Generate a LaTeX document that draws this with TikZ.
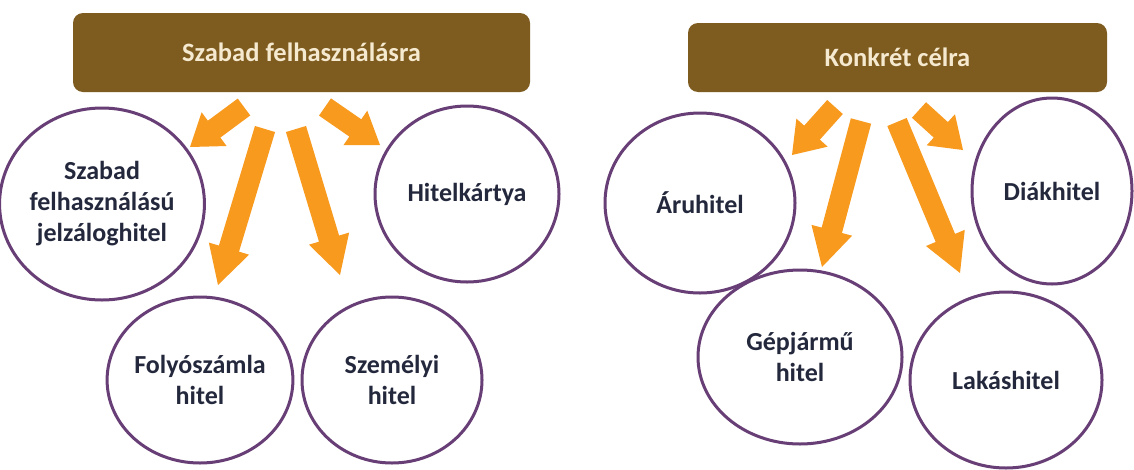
\documentclass[tikz,border=0pt]{standalone}
\usepackage{fontspec}
\setmainfont{Carlito}
\usetikzlibrary{calc,shapes.geometric}
\definecolor{boxc}{RGB}{126,91,31}
\definecolor{headtxt}{RGB}{245,233,207}
\definecolor{circc}{RGB}{104,62,118}
\definecolor{arrc}{RGB}{248,154,30}
\definecolor{txtc}{RGB}{36,40,60}
\tikzset{
  header/.style={fill=boxc, rounded corners=10pt, text=headtxt, draw=none,
    font=\fontsize{26.5}{31}\selectfont\bfseries},
  bubble/.style={ellipse, draw=circc, line width=3pt, text=txtc, align=center,
    inner sep=0pt, font=\fontsize{26}{31}\selectfont\bfseries},
  blockarrow/.style={fill=arrc, draw=none}
}
% #1 tail coordinate, #2 tip coordinate, #3 head length
\newcommand\blockarr[3]{%
  \coordinate (#1-h) at ($(#2)!#3!(#1)$);
  \fill[blockarrow] ($(#1)!10.5pt!90:(#2)$) -- ($(#1-h)!10.5pt!90:(#2)$)
    -- ($(#1-h)!21pt!90:(#2)$) -- (#2) -- ($(#1-h)!21pt!-90:(#2)$)
    -- ($(#1-h)!10.5pt!-90:(#2)$) -- ($(#1)!10.5pt!-90:(#2)$) -- cycle;}
\begin{document}
\begin{tikzpicture}[x=1pt,y=-1pt]
\useasboundingbox[fill=white] (0,0) rectangle (1134,469);

% headers
\node[header, minimum width=457pt, minimum height=79pt] (hL) at (301.5,52.5) {Szabad felhasználásra};
\node[header, minimum width=419pt, minimum height=69pt] (hR) at (897.5,57.5) {Konkrét célra};

% circles
\node[bubble, minimum width=178pt, minimum height=192pt] (c1) at (102,204) {Szabad\\felhasználású\\jelzáloghitel};
\node[bubble, minimum width=184pt, minimum height=176pt] (c2) at (467,194) {Hitelkártya};
\node[bubble, minimum width=166pt, minimum height=166pt] (c3) at (200,380) {Folyószámla\\hitel};
\node[bubble, minimum width=180pt, minimum height=166pt] (c4) at (392,380) {Személyi\\hitel};
\node[bubble, minimum width=190pt, minimum height=180pt] (c5) at (700,203) {Áruhitel};
\node[bubble, minimum width=160pt, minimum height=186pt] (c6) at (1052,191) {Diákhitel};
\node[bubble, minimum width=204pt, minimum height=174pt] (c7) at (800,357) {Gépjármű\\hitel};
\node[bubble, minimum width=192pt, minimum height=176pt] (c8) at (1006,380) {Lakáshitel};

% arrow end points
\coordinate (l1t) at (244,107); \coordinate (l1p) at (190,147);
\coordinate (l2t) at (265,129); \coordinate (l2p) at (218,285);
\coordinate (l3t) at (296,129); \coordinate (l3p) at (340,275);
\coordinate (l4t) at (325,107); \coordinate (l4p) at (380,145);
\coordinate (r1t) at (835,107); \coordinate (r1p) at (792,155);
\coordinate (r2t) at (861,121); \coordinate (r2p) at (822,267);
\coordinate (r3t) at (897,122); \coordinate (r3p) at (960,273);
\coordinate (r4t) at (919,110); \coordinate (r4p) at (963,150);

\blockarr{l1t}{l1p}{30pt}
\blockarr{l2t}{l2p}{38pt}
\blockarr{l3t}{l3p}{38pt}
\blockarr{l4t}{l4p}{30pt}
\blockarr{r1t}{r1p}{30pt}
\blockarr{r2t}{r2p}{38pt}
\blockarr{r3t}{r3p}{38pt}
\blockarr{r4t}{r4p}{30pt}
\end{tikzpicture}
\end{document}
